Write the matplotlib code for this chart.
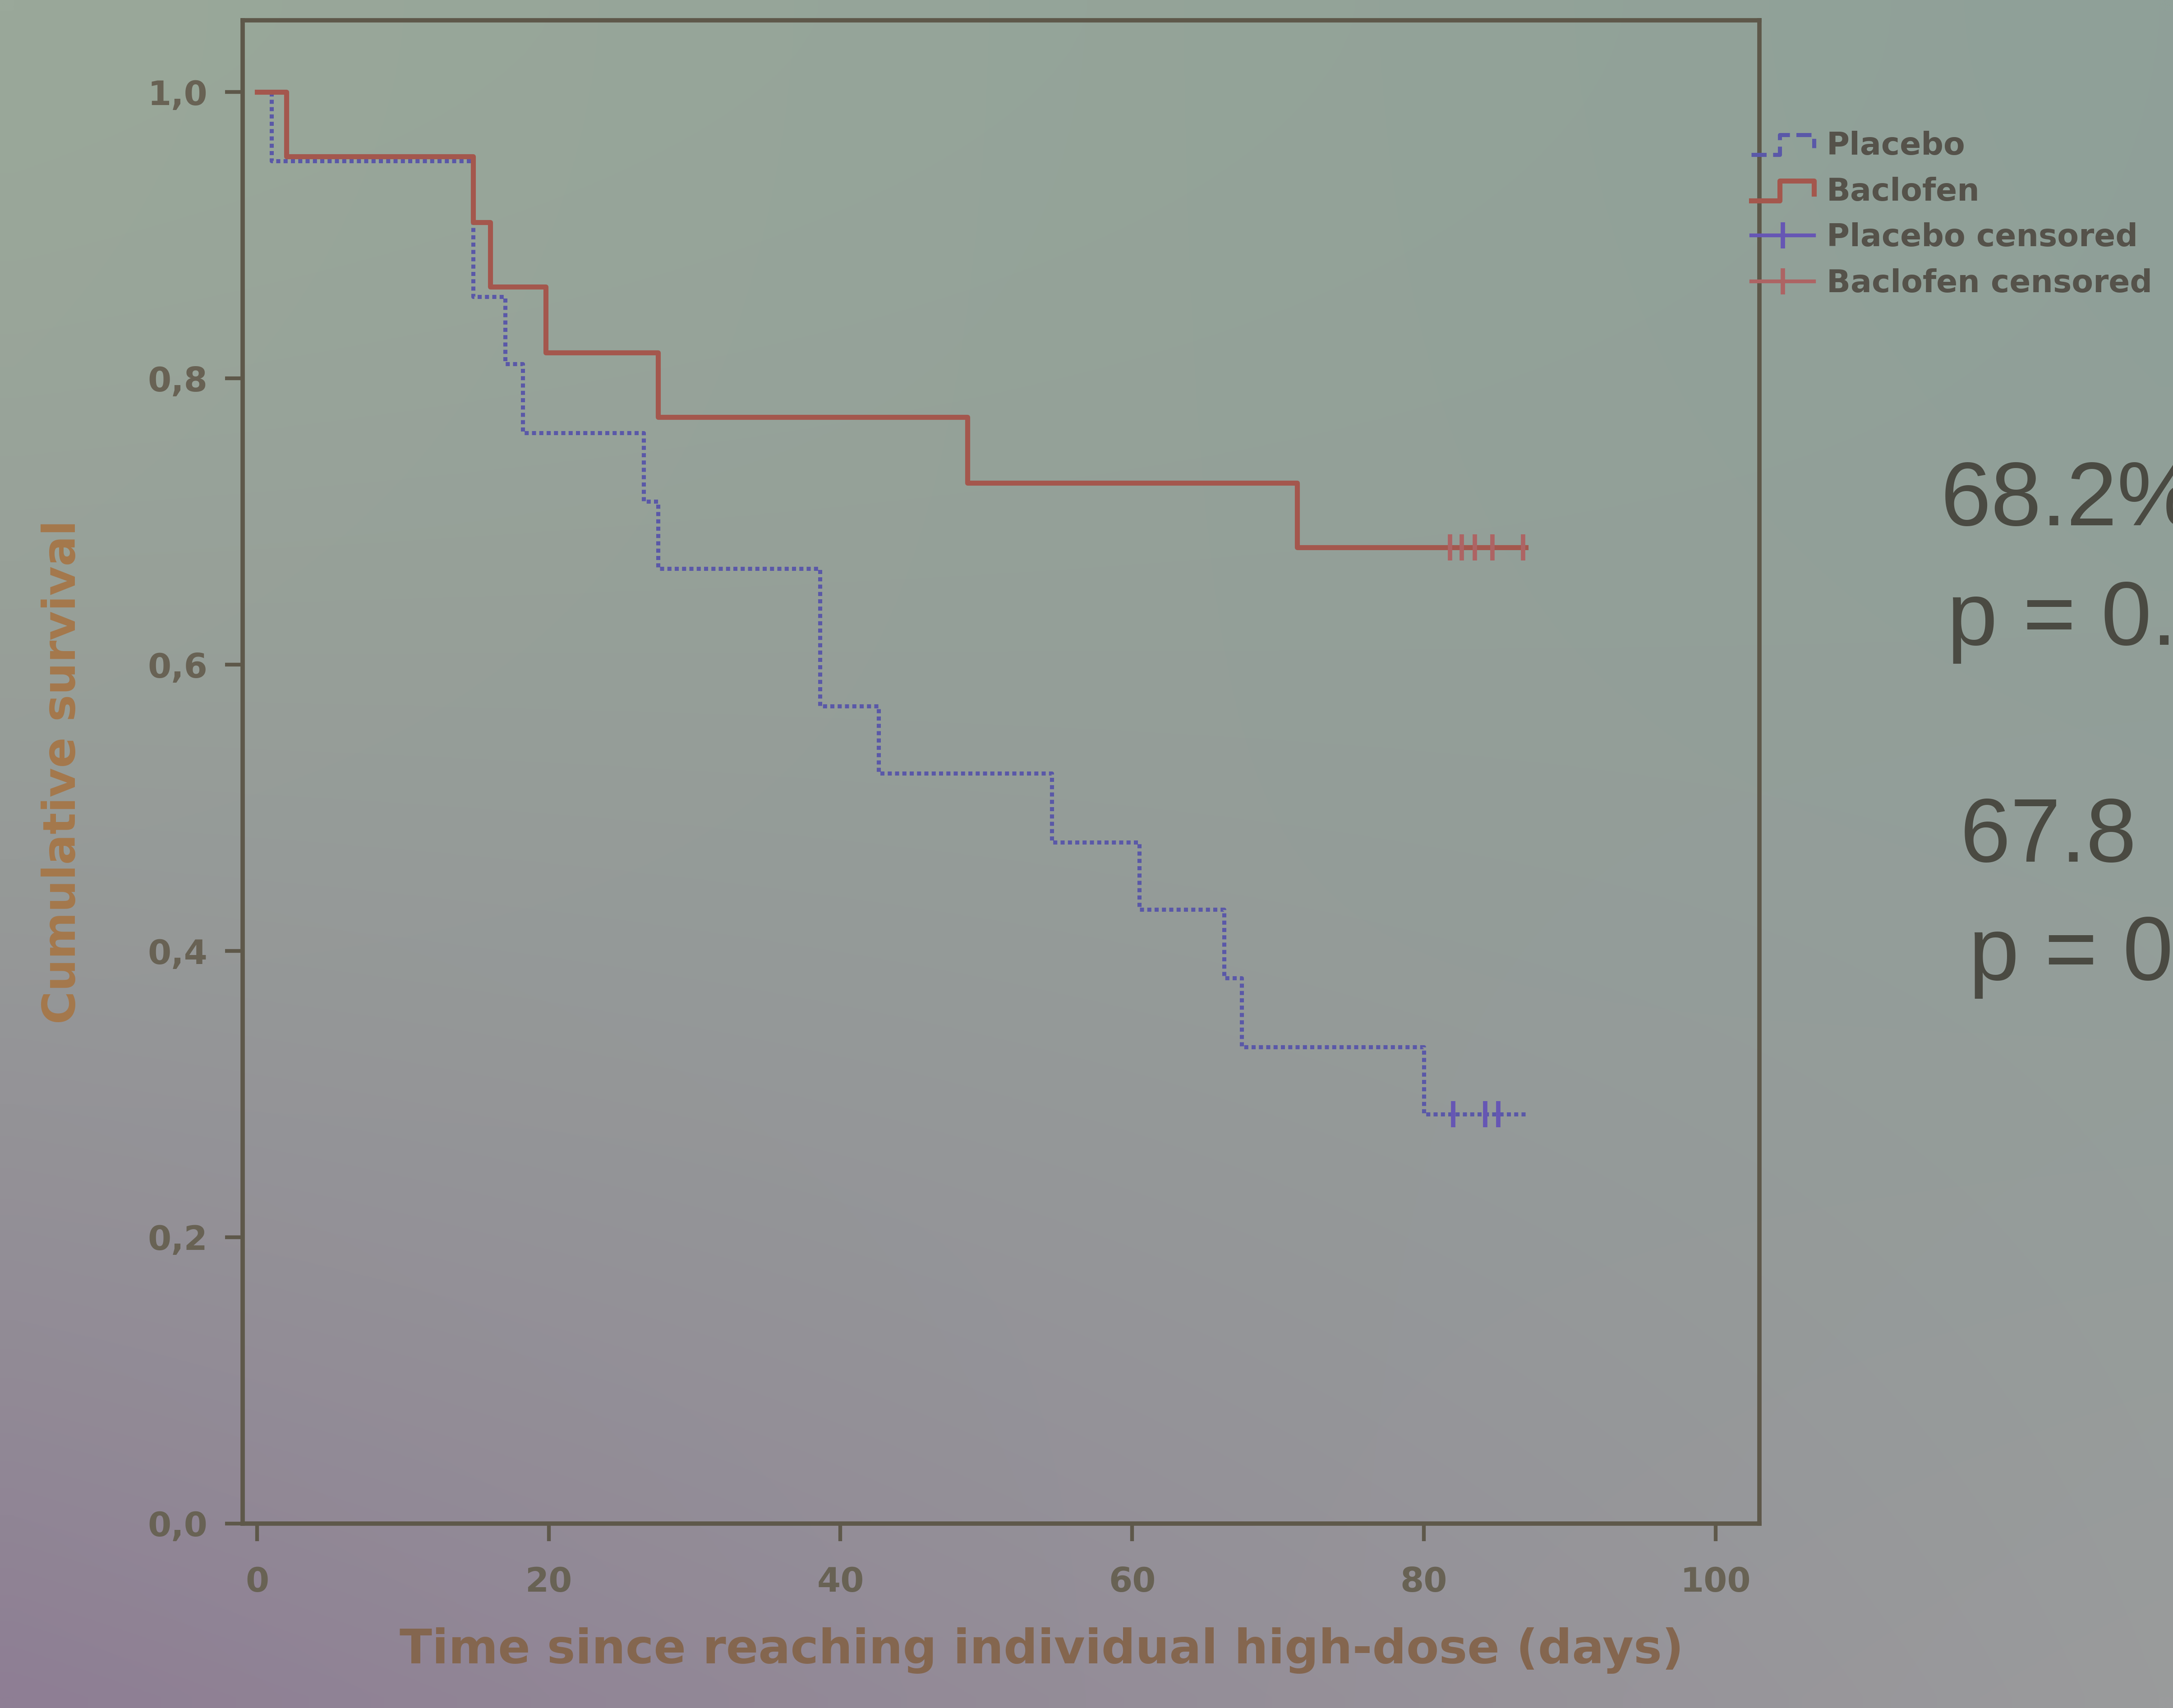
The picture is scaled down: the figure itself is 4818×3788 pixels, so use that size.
import numpy as np
import matplotlib
matplotlib.use("Agg")
import matplotlib.pyplot as plt
from matplotlib.lines import Line2D
from matplotlib.legend_handler import HandlerBase

# ──────────────────────────────────────────────
# data
placebo_times = [0, 1, 14.8, 17, 18.2, 26.5, 27.5, 38.6, 42.6, 54.5, 60.5, 66.3, 67.5, 80, 87]
placebo_surv = [1.0, 0.952, 0.857, 0.810, 0.762, 0.714, 0.667, 0.571, 0.524, 0.476, 0.429, 0.381, 0.333, 0.286, 0.286]
placebo_cens = [82, 84.2, 85.1]

baclofen_times = [0, 2, 14.8, 16, 19.8, 27.5, 48.7, 71.3, 87]
baclofen_surv = [1.0, 0.955, 0.909, 0.864, 0.818, 0.773, 0.727, 0.682, 0.682]
baclofen_cens = [81.8, 82.6, 83.5, 84.7, 86.8]

y_ticks = [0.0, 0.2, 0.4, 0.6, 0.8, 1.0]
y_ticklabels = ["0,0", "0,2", "0,4", "0,6", "0,8", "1,0"]
x_ticks = [0, 20, 40, 60, 80, 100]

side_text = ["68.2%", "p = 0.", "67.8", "p = 0"]

BLUE = "#5a58a8"
BLUE_C = "#6656b4"
RED = "#a4574d"
RED_C = "#ad6464"
AXC = "#5e584a"


def surv_at(times, surv, pts):
    # KM curve value at each censoring time
    idx = np.searchsorted(np.asarray(times), pts, side="right") - 1
    return np.asarray(surv)[idx]


class StepHandler(HandlerBase):
    # SPSS style legend glyph: little step
    def create_artists(self, legend, orig_handle, xdescent, ydescent, width, height, fontsize, trans):
        x = np.array([0, 0.45, 0.45, 1.0, 1.0]) * width - xdescent
        y = np.array([0.0, 0.0, 0.9, 0.9, 0.3]) * height - ydescent
        ln = Line2D(x, y, color=orig_handle.get_color(), linestyle=orig_handle.get_linestyle(),
                    linewidth=orig_handle.get_linewidth())
        ln.set_transform(trans)
        return [ln]


fig = plt.figure(figsize=(48.18, 37.88), dpi=100)

# photographed slide background
bg = fig.add_axes([0, 0, 1, 1], zorder=-10)
tl = np.array([154, 168, 154]) / 255
tr = np.array([143, 160, 152]) / 255
bl = np.array([142, 126, 148]) / 255
br = np.array([154, 155, 156]) / 255
gy, gx = np.mgrid[0:1:80j, 0:1:80j]
gx = gx[..., None]
gy = gy[..., None] ** 1.6
img = (1 - gy) * ((1 - gx) * tl + gx * tr) + gy * ((1 - gx) * bl + gx * br)
bg.imshow(img, extent=[0, 1, 0, 1], aspect="auto", interpolation="bilinear")
bg.axis("off")

ax = fig.add_axes([0.1116, 0.108, 0.698, 0.88])
ax.set_facecolor("none")

pl_line, = ax.step(placebo_times, placebo_surv, where="post", color=BLUE, lw=6.5,
                   linestyle=(0, (1.0, 0.8)))
bc_line, = ax.step(baclofen_times, baclofen_surv, where="post", color=RED, lw=8)

ax.plot(placebo_cens, surv_at(placebo_times, placebo_surv, placebo_cens), linestyle="none",
        marker="|", markersize=42, markeredgewidth=7, color=BLUE_C)
ax.plot(baclofen_cens, surv_at(baclofen_times, baclofen_surv, baclofen_cens), linestyle="none",
        marker="|", markersize=42, markeredgewidth=7, color=RED_C)

ax.set_xlim(-1, 103)
ax.set_ylim(0, 1.05)
ax.set_yticks(y_ticks)
ax.set_yticklabels(y_ticklabels)
ax.set_xticks(x_ticks)
for s in ax.spines.values():
    s.set_color(AXC)
    s.set_linewidth(7)
ax.tick_params(axis="both", direction="out", length=28, width=6, color=AXC,
               labelsize=54, labelcolor="#686254")
ax.tick_params(axis="y", pad=28)
ax.tick_params(axis="x", pad=40)
for lab in ax.get_xticklabels() + ax.get_yticklabels():
    lab.set_fontweight("bold")

ax.set_ylabel("Cumulative survival", fontsize=72, fontweight="bold", color="#a5784c", labelpad=100)
ax.set_xlabel("Time since reaching individual high-dose (days)", fontsize=76, fontweight="bold",
              color="#84664f", labelpad=45)
ax.xaxis.label.set_x(0.527)

handles = [
    pl_line,
    bc_line,
    Line2D([], [], color=BLUE_C, lw=6, marker="|", markersize=42, markeredgewidth=7),
    Line2D([], [], color=RED_C, lw=6, marker="|", markersize=42, markeredgewidth=7),
]
labels = ["Placebo", "Baclofen", "Placebo censored", "Baclofen censored"]
leg = fig.legend(handles, labels, loc="upper left", bbox_to_anchor=(0.793, 0.94),
                 frameon=False, fontsize=50, handlelength=2.0, handletextpad=0.4,
                 labelspacing=0.5, handler_map={pl_line: StepHandler(), bc_line: StepHandler()})
for t in leg.get_texts():
    t.set_color("#55524a")
    t.set_fontweight("bold")

# annotation running off the right edge of the photographed slide
for txt, xx, yy in zip(side_text, [0.893, 0.896, 0.902, 0.906], [0.706, 0.636, 0.509, 0.440]):
    fig.text(xx, yy, txt, fontsize=145, color="#4a4a42", family="Liberation Sans",
             ha="left", va="center")

fig.savefig("out.png", dpi=100)
